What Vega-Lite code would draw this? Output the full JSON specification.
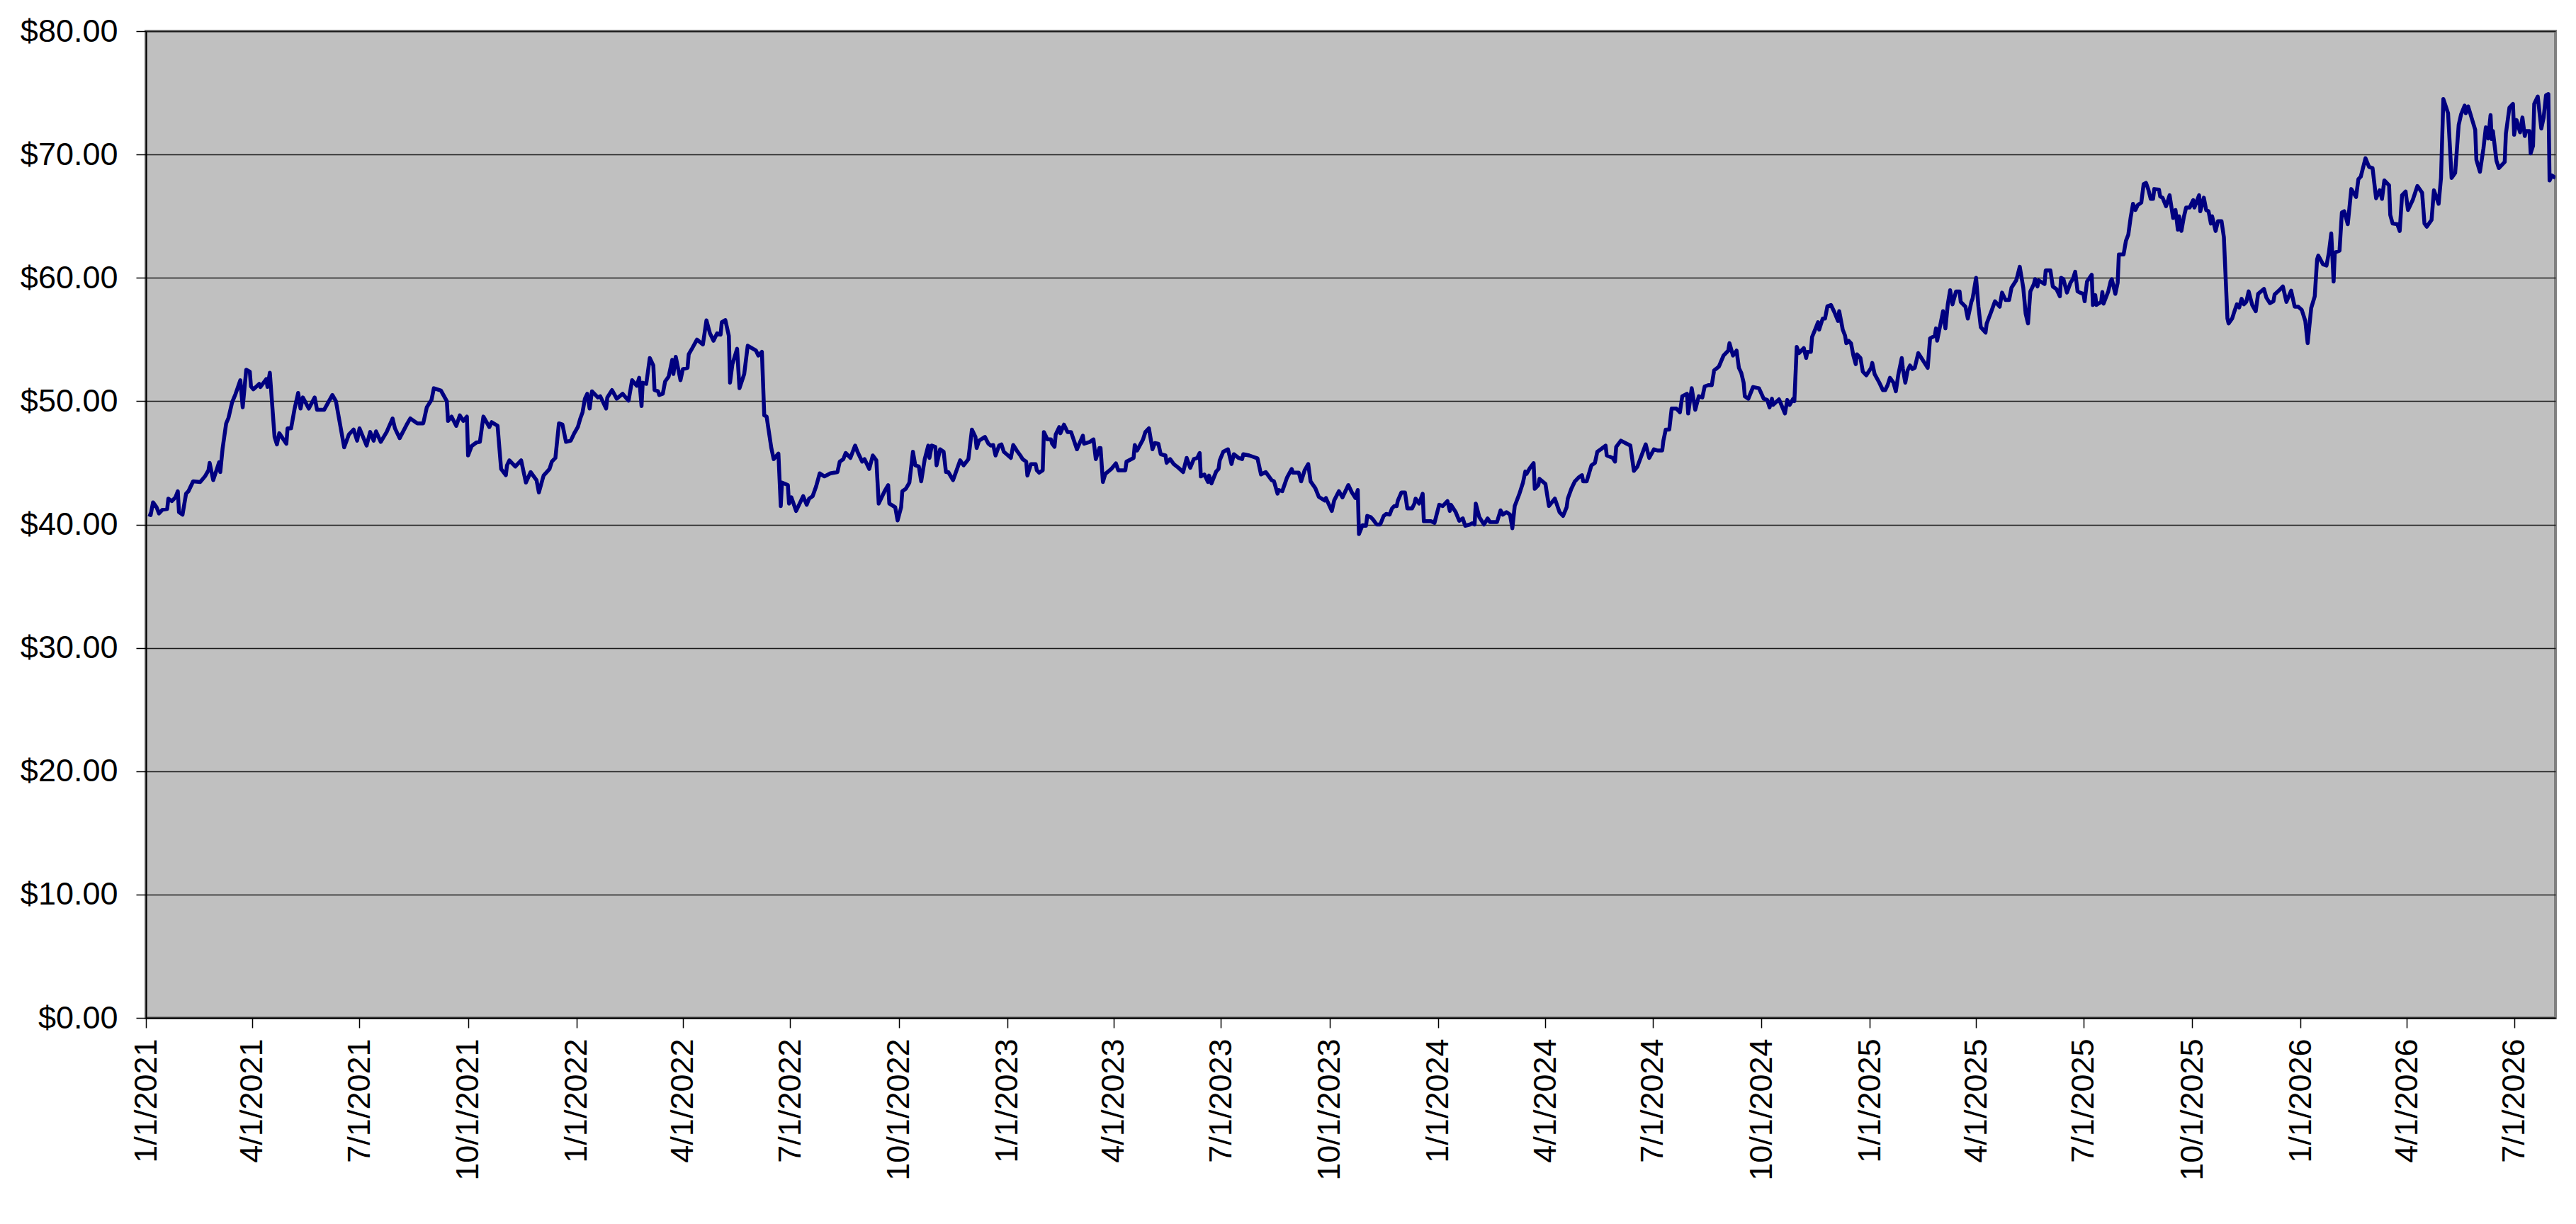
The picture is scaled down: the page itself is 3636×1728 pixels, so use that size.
{
  "$schema": "https://vega.github.io/schema/vega-lite/v6.json",
  "autosize": "none",
  "width": 3401,
  "height": 1393,
  "padding": {"left": 206, "top": 44, "right": 29, "bottom": 291},
  "background": "#FFFFFF",
  "config": {
    "view": {"fill": "#C0C0C0", "stroke": "#808080", "strokeWidth": 4},
    "axis": {"labelFont": "Liberation Sans", "labelFontSize": 45, "labelColor": "#000000", "labelLimit": 0, "domainColor": "#000000", "domainWidth": 2, "tickColor": "#000000", "tickWidth": 1.5, "tickSize": 14, "title": null}
  },
  "data": {"values": [
{"d":"2021-01-03","v":40.84},{"d":"2021-01-05","v":40.77},{"d":"2021-01-07","v":41.8},{"d":"2021-01-10","v":41.4},{"d":"2021-01-12","v":40.9},{"d":"2021-01-15","v":41.2},{"d":"2021-01-19","v":41.26},{"d":"2021-01-20","v":42.1},{"d":"2021-01-23","v":41.9},{"d":"2021-01-26","v":42.2},{"d":"2021-01-28","v":42.7},{"d":"2021-01-29","v":41.0},{"d":"2021-02-01","v":40.8},{"d":"2021-02-04","v":42.5},{"d":"2021-02-06","v":42.7},{"d":"2021-02-10","v":43.5},{"d":"2021-02-16","v":43.45},{"d":"2021-02-20","v":43.9},{"d":"2021-02-23","v":44.4},{"d":"2021-02-24","v":45.0},{"d":"2021-02-27","v":43.6},{"d":"2021-03-04","v":45.05},{"d":"2021-03-05","v":44.25},{"d":"2021-03-07","v":46.2},{"d":"2021-03-10","v":48.2},{"d":"2021-03-12","v":48.66},{"d":"2021-03-15","v":49.9},{"d":"2021-03-18","v":50.6},{"d":"2021-03-22","v":51.7},{"d":"2021-03-24","v":49.5},{"d":"2021-03-27","v":52.55},{"d":"2021-03-30","v":52.4},{"d":"2021-03-31","v":51.2},{"d":"2021-04-02","v":50.96},{"d":"2021-04-07","v":51.4},{"d":"2021-04-08","v":51.15},{"d":"2021-04-13","v":51.8},{"d":"2021-04-14","v":51.15},{"d":"2021-04-16","v":52.3},{"d":"2021-04-20","v":47.1},{"d":"2021-04-22","v":46.5},{"d":"2021-04-24","v":47.4},{"d":"2021-04-30","v":46.55},{"d":"2021-05-01","v":47.8},{"d":"2021-05-04","v":47.8},{"d":"2021-05-07","v":49.4},{"d":"2021-05-10","v":50.67},{"d":"2021-05-12","v":49.4},{"d":"2021-05-14","v":50.3},{"d":"2021-05-19","v":49.4},{"d":"2021-05-24","v":50.3},{"d":"2021-05-26","v":49.3},{"d":"2021-06-01","v":49.3},{"d":"2021-06-08","v":50.5},{"d":"2021-06-11","v":50.0},{"d":"2021-06-18","v":46.26},{"d":"2021-06-22","v":47.3},{"d":"2021-06-26","v":47.7},{"d":"2021-06-29","v":46.8},{"d":"2021-07-01","v":47.8},{"d":"2021-07-07","v":46.4},{"d":"2021-07-10","v":47.5},{"d":"2021-07-13","v":46.8},{"d":"2021-07-15","v":47.55},{"d":"2021-07-19","v":46.7},{"d":"2021-07-24","v":47.5},{"d":"2021-07-29","v":48.6},{"d":"2021-07-31","v":47.8},{"d":"2021-08-04","v":47.0},{"d":"2021-08-10","v":48.1},{"d":"2021-08-13","v":48.6},{"d":"2021-08-19","v":48.2},{"d":"2021-08-24","v":48.2},{"d":"2021-08-27","v":49.5},{"d":"2021-08-31","v":50.1},{"d":"2021-09-02","v":51.05},{"d":"2021-09-08","v":50.86},{"d":"2021-09-13","v":50.0},{"d":"2021-09-14","v":48.4},{"d":"2021-09-17","v":48.75},{"d":"2021-09-21","v":48.0},{"d":"2021-09-24","v":48.85},{"d":"2021-09-27","v":48.4},{"d":"2021-09-30","v":48.75},{"d":"2021-10-01","v":45.6},{"d":"2021-10-04","v":46.36},{"d":"2021-10-08","v":46.65},{"d":"2021-10-11","v":46.7},{"d":"2021-10-14","v":48.75},{"d":"2021-10-19","v":47.9},{"d":"2021-10-21","v":48.3},{"d":"2021-10-26","v":48.0},{"d":"2021-10-29","v":44.5},{"d":"2021-11-02","v":44.0},{"d":"2021-11-03","v":44.8},{"d":"2021-11-05","v":45.2},{"d":"2021-11-10","v":44.7},{"d":"2021-11-15","v":45.2},{"d":"2021-11-19","v":43.4},{"d":"2021-11-23","v":44.25},{"d":"2021-11-28","v":43.6},{"d":"2021-11-30","v":42.6},{"d":"2021-12-04","v":43.97},{"d":"2021-12-09","v":44.5},{"d":"2021-12-11","v":45.1},{"d":"2021-12-14","v":45.4},{"d":"2021-12-17","v":48.2},{"d":"2021-12-20","v":48.1},{"d":"2021-12-23","v":46.7},{"d":"2021-12-27","v":46.8},{"d":"2021-12-30","v":47.4},
{"d":"2022-01-02","v":47.9},{"d":"2022-01-04","v":48.56},{"d":"2022-01-06","v":49.1},{"d":"2022-01-08","v":50.2},{"d":"2022-01-10","v":50.6},{"d":"2022-01-12","v":49.4},{"d":"2022-01-14","v":50.8},{"d":"2022-01-19","v":50.3},{"d":"2022-01-21","v":50.4},{"d":"2022-01-26","v":49.4},{"d":"2022-01-27","v":50.3},{"d":"2022-01-31","v":50.9},{"d":"2022-02-04","v":50.2},{"d":"2022-02-09","v":50.6},{"d":"2022-02-14","v":50.04},{"d":"2022-02-17","v":51.7},{"d":"2022-02-21","v":51.25},{"d":"2022-02-23","v":51.9},{"d":"2022-02-25","v":49.6},{"d":"2022-02-26","v":51.5},{"d":"2022-03-01","v":51.4},{"d":"2022-03-04","v":53.5},{"d":"2022-03-07","v":52.9},{"d":"2022-03-08","v":50.9},{"d":"2022-03-11","v":50.8},{"d":"2022-03-12","v":50.5},{"d":"2022-03-15","v":50.6},{"d":"2022-03-17","v":51.6},{"d":"2022-03-20","v":52.0},{"d":"2022-03-23","v":53.35},{"d":"2022-03-24","v":52.2},{"d":"2022-03-26","v":53.6},{"d":"2022-03-30","v":51.7},{"d":"2022-04-01","v":52.6},{"d":"2022-04-05","v":52.7},{"d":"2022-04-06","v":53.8},{"d":"2022-04-09","v":54.3},{"d":"2022-04-13","v":55.0},{"d":"2022-04-18","v":54.6},{"d":"2022-04-21","v":56.55},{"d":"2022-04-24","v":55.5},{"d":"2022-04-27","v":54.9},{"d":"2022-04-30","v":55.5},{"d":"2022-05-03","v":55.4},{"d":"2022-05-04","v":56.4},{"d":"2022-05-07","v":56.57},{"d":"2022-05-10","v":55.3},{"d":"2022-05-11","v":51.5},{"d":"2022-05-13","v":53.0},{"d":"2022-05-17","v":54.25},{"d":"2022-05-19","v":51.05},{"d":"2022-05-23","v":52.2},{"d":"2022-05-26","v":54.5},{"d":"2022-06-02","v":54.1},{"d":"2022-06-04","v":53.7},{"d":"2022-06-07","v":54.0},{"d":"2022-06-09","v":48.85},{"d":"2022-06-11","v":48.75},{"d":"2022-06-15","v":46.2},{"d":"2022-06-17","v":45.3},{"d":"2022-06-21","v":45.75},{"d":"2022-06-23","v":41.5},{"d":"2022-06-24","v":43.4},{"d":"2022-06-29","v":43.2},{"d":"2022-06-30","v":41.7},{"d":"2022-07-02","v":42.2},{"d":"2022-07-06","v":41.1},{"d":"2022-07-09","v":41.7},{"d":"2022-07-12","v":42.3},{"d":"2022-07-15","v":41.6},{"d":"2022-07-17","v":42.1},{"d":"2022-07-20","v":42.3},{"d":"2022-07-23","v":43.1},{"d":"2022-07-26","v":44.15},{"d":"2022-07-30","v":43.9},{"d":"2022-08-04","v":44.15},{"d":"2022-08-10","v":44.25},{"d":"2022-08-12","v":45.1},{"d":"2022-08-15","v":45.3},{"d":"2022-08-17","v":45.8},{"d":"2022-08-21","v":45.4},{"d":"2022-08-25","v":46.4},{"d":"2022-08-27","v":45.9},{"d":"2022-08-31","v":45.1},{"d":"2022-09-02","v":45.3},{"d":"2022-09-06","v":44.5},{"d":"2022-09-09","v":45.6},{"d":"2022-09-12","v":45.2},{"d":"2022-09-14","v":41.7},{"d":"2022-09-19","v":42.7},{"d":"2022-09-22","v":43.2},{"d":"2022-09-23","v":41.7},{"d":"2022-09-28","v":41.4},{"d":"2022-09-30","v":40.33},{"d":"2022-10-03","v":41.4},{"d":"2022-10-04","v":42.7},{"d":"2022-10-07","v":42.9},{"d":"2022-10-10","v":43.4},{"d":"2022-10-13","v":45.9},{"d":"2022-10-15","v":44.8},{"d":"2022-10-18","v":44.7},{"d":"2022-10-20","v":43.5},{"d":"2022-10-23","v":45.3},{"d":"2022-10-26","v":46.4},{"d":"2022-10-27","v":45.4},{"d":"2022-10-29","v":46.4},{"d":"2022-11-01","v":46.3},{"d":"2022-11-02","v":44.8},{"d":"2022-11-05","v":46.1},{"d":"2022-11-08","v":45.9},{"d":"2022-11-10","v":44.25},{"d":"2022-11-12","v":44.25},{"d":"2022-11-16","v":43.6},{"d":"2022-11-19","v":44.4},{"d":"2022-11-22","v":45.2},{"d":"2022-11-25","v":44.8},{"d":"2022-11-29","v":45.3},{"d":"2022-12-02","v":47.7},{"d":"2022-12-05","v":47.1},{"d":"2022-12-06","v":46.2},{"d":"2022-12-08","v":46.8},{"d":"2022-12-13","v":47.1},{"d":"2022-12-16","v":46.55},{"d":"2022-12-18","v":46.4},{"d":"2022-12-20","v":46.45},{"d":"2022-12-22","v":45.6},{"d":"2022-12-25","v":46.4},{"d":"2022-12-27","v":46.5},{"d":"2022-12-29","v":45.9},
{"d":"2023-01-04","v":45.4},{"d":"2023-01-06","v":46.45},{"d":"2023-01-09","v":46.0},{"d":"2023-01-12","v":45.6},{"d":"2023-01-14","v":45.3},{"d":"2023-01-17","v":45.1},{"d":"2023-01-18","v":43.97},{"d":"2023-01-21","v":44.9},{"d":"2023-01-25","v":44.9},{"d":"2023-01-26","v":44.4},{"d":"2023-01-28","v":44.2},{"d":"2023-01-31","v":44.4},{"d":"2023-02-01","v":47.5},{"d":"2023-02-04","v":46.9},{"d":"2023-02-07","v":46.9},{"d":"2023-02-08","v":46.55},{"d":"2023-02-10","v":46.3},{"d":"2023-02-11","v":47.3},{"d":"2023-02-14","v":47.9},{"d":"2023-02-15","v":47.4},{"d":"2023-02-18","v":48.1},{"d":"2023-02-21","v":47.5},{"d":"2023-02-24","v":47.5},{"d":"2023-03-01","v":46.1},{"d":"2023-03-06","v":47.2},{"d":"2023-03-07","v":46.55},{"d":"2023-03-12","v":46.7},{"d":"2023-03-15","v":46.9},{"d":"2023-03-17","v":45.3},{"d":"2023-03-20","v":46.2},{"d":"2023-03-21","v":46.2},{"d":"2023-03-23","v":43.45},{"d":"2023-03-25","v":44.1},{"d":"2023-03-30","v":44.5},{"d":"2023-04-03","v":44.96},{"d":"2023-04-05","v":44.4},{"d":"2023-04-11","v":44.4},{"d":"2023-04-12","v":45.1},{"d":"2023-04-18","v":45.4},{"d":"2023-04-19","v":46.45},{"d":"2023-04-21","v":46.0},{"d":"2023-04-26","v":46.9},{"d":"2023-04-28","v":47.5},{"d":"2023-05-01","v":47.8},{"d":"2023-05-04","v":46.1},{"d":"2023-05-06","v":46.6},{"d":"2023-05-09","v":46.55},{"d":"2023-05-11","v":45.7},{"d":"2023-05-15","v":45.6},{"d":"2023-05-16","v":45.0},{"d":"2023-05-19","v":45.3},{"d":"2023-05-22","v":44.9},{"d":"2023-05-26","v":44.6},{"d":"2023-05-30","v":44.25},{"d":"2023-06-02","v":45.4},{"d":"2023-06-05","v":44.6},{"d":"2023-06-08","v":45.3},{"d":"2023-06-11","v":45.4},{"d":"2023-06-13","v":45.8},{"d":"2023-06-14","v":43.9},{"d":"2023-06-17","v":44.06},{"d":"2023-06-20","v":43.45},{"d":"2023-06-21","v":43.97},{"d":"2023-06-23","v":43.33},{"d":"2023-06-27","v":44.3},{"d":"2023-06-29","v":44.5},{"d":"2023-06-30","v":45.2},{"d":"2023-07-03","v":45.9},{"d":"2023-07-07","v":46.1},{"d":"2023-07-10","v":44.9},{"d":"2023-07-12","v":45.7},{"d":"2023-07-16","v":45.4},{"d":"2023-07-19","v":45.3},{"d":"2023-07-20","v":45.7},{"d":"2023-07-25","v":45.6},{"d":"2023-07-28","v":45.5},{"d":"2023-08-01","v":45.36},{"d":"2023-08-04","v":44.06},{"d":"2023-08-08","v":44.25},{"d":"2023-08-13","v":43.6},{"d":"2023-08-15","v":43.5},{"d":"2023-08-18","v":42.5},{"d":"2023-08-19","v":42.8},{"d":"2023-08-22","v":42.7},{"d":"2023-08-26","v":43.8},{"d":"2023-08-30","v":44.5},{"d":"2023-08-31","v":44.2},{"d":"2023-09-05","v":44.2},{"d":"2023-09-07","v":43.5},{"d":"2023-09-10","v":44.4},{"d":"2023-09-13","v":44.9},{"d":"2023-09-15","v":43.5},{"d":"2023-09-19","v":42.95},{"d":"2023-09-22","v":42.24},{"d":"2023-09-27","v":41.95},{"d":"2023-09-28","v":42.15},{"d":"2023-10-03","v":41.1},{"d":"2023-10-05","v":41.95},{"d":"2023-10-09","v":42.7},{"d":"2023-10-12","v":42.2},{"d":"2023-10-15","v":42.8},{"d":"2023-10-17","v":43.2},{"d":"2023-10-20","v":42.6},{"d":"2023-10-23","v":42.15},{"d":"2023-10-25","v":42.8},{"d":"2023-10-26","v":39.23},{"d":"2023-10-29","v":39.94},{"d":"2023-11-01","v":39.9},{"d":"2023-11-02","v":40.7},{"d":"2023-11-05","v":40.6},{"d":"2023-11-07","v":40.4},{"d":"2023-11-10","v":40.0},{"d":"2023-11-13","v":40.0},{"d":"2023-11-16","v":40.7},{"d":"2023-11-18","v":40.86},{"d":"2023-11-21","v":40.8},{"d":"2023-11-23","v":41.3},{"d":"2023-11-25","v":41.5},{"d":"2023-11-27","v":41.5},{"d":"2023-11-28","v":41.95},{"d":"2023-12-01","v":42.6},{"d":"2023-12-04","v":42.6},{"d":"2023-12-06","v":41.3},{"d":"2023-12-10","v":41.3},{"d":"2023-12-12","v":41.7},{"d":"2023-12-13","v":42.1},{"d":"2023-12-16","v":41.7},{"d":"2023-12-19","v":42.5},{"d":"2023-12-20","v":40.27},{"d":"2023-12-26","v":40.27},{"d":"2023-12-29","v":40.13},
{"d":"2024-01-02","v":41.6},{"d":"2024-01-05","v":41.5},{"d":"2024-01-09","v":41.9},{"d":"2024-01-11","v":41.1},{"d":"2024-01-12","v":41.6},{"d":"2024-01-16","v":41.0},{"d":"2024-01-19","v":40.3},{"d":"2024-01-22","v":40.5},{"d":"2024-01-24","v":39.9},{"d":"2024-01-28","v":40.0},{"d":"2024-01-30","v":40.1},{"d":"2024-02-01","v":40.0},{"d":"2024-02-02","v":41.7},{"d":"2024-02-05","v":40.6},{"d":"2024-02-09","v":40.0},{"d":"2024-02-12","v":40.5},{"d":"2024-02-14","v":40.2},{"d":"2024-02-20","v":40.2},{"d":"2024-02-23","v":41.15},{"d":"2024-02-25","v":40.8},{"d":"2024-02-28","v":41.0},{"d":"2024-03-02","v":40.8},{"d":"2024-03-04","v":39.7},{"d":"2024-03-06","v":41.5},{"d":"2024-03-10","v":42.5},{"d":"2024-03-13","v":43.4},{"d":"2024-03-15","v":44.3},{"d":"2024-03-16","v":44.1},{"d":"2024-03-19","v":44.6},{"d":"2024-03-22","v":44.98},{"d":"2024-03-23","v":42.9},{"d":"2024-03-26","v":43.2},{"d":"2024-03-27","v":43.7},{"d":"2024-04-01","v":43.3},{"d":"2024-04-04","v":41.5},{"d":"2024-04-09","v":42.1},{"d":"2024-04-13","v":41.0},{"d":"2024-04-16","v":40.7},{"d":"2024-04-19","v":41.4},{"d":"2024-04-20","v":42.1},{"d":"2024-04-23","v":42.9},{"d":"2024-04-26","v":43.5},{"d":"2024-04-29","v":43.8},{"d":"2024-05-02","v":44.0},{"d":"2024-05-03","v":43.5},{"d":"2024-05-06","v":43.5},{"d":"2024-05-10","v":44.8},{"d":"2024-05-13","v":45.0},{"d":"2024-05-15","v":45.9},{"d":"2024-05-18","v":46.1},{"d":"2024-05-22","v":46.4},{"d":"2024-05-23","v":45.6},{"d":"2024-05-28","v":45.4},{"d":"2024-05-30","v":45.1},{"d":"2024-05-31","v":46.3},{"d":"2024-06-04","v":46.8},{"d":"2024-06-09","v":46.55},{"d":"2024-06-12","v":46.4},{"d":"2024-06-15","v":44.35},{"d":"2024-06-18","v":44.7},{"d":"2024-06-25","v":46.5},{"d":"2024-06-28","v":45.4},{"d":"2024-07-02","v":46.1},{"d":"2024-07-05","v":46.0},{"d":"2024-07-09","v":46.0},{"d":"2024-07-10","v":46.8},{"d":"2024-07-12","v":47.7},{"d":"2024-07-15","v":47.7},{"d":"2024-07-17","v":49.4},{"d":"2024-07-21","v":49.4},{"d":"2024-07-24","v":49.1},{"d":"2024-07-26","v":50.4},{"d":"2024-07-30","v":50.6},{"d":"2024-07-31","v":49.0},{"d":"2024-08-03","v":51.05},{"d":"2024-08-06","v":49.3},{"d":"2024-08-09","v":50.4},{"d":"2024-08-12","v":50.3},{"d":"2024-08-14","v":51.2},{"d":"2024-08-17","v":51.3},{"d":"2024-08-20","v":51.3},{"d":"2024-08-22","v":52.5},{"d":"2024-08-26","v":52.8},{"d":"2024-08-30","v":53.7},{"d":"2024-09-03","v":54.1},{"d":"2024-09-04","v":54.7},{"d":"2024-09-07","v":53.7},{"d":"2024-09-10","v":54.1},{"d":"2024-09-12","v":52.7},{"d":"2024-09-14","v":52.3},{"d":"2024-09-16","v":51.5},{"d":"2024-09-17","v":50.4},{"d":"2024-09-20","v":50.2},{"d":"2024-09-24","v":51.15},{"d":"2024-09-29","v":51.05},{"d":"2024-10-03","v":50.2},{"d":"2024-10-06","v":50.1},{"d":"2024-10-08","v":49.5},{"d":"2024-10-10","v":50.2},{"d":"2024-10-11","v":49.7},{"d":"2024-10-16","v":50.15},{"d":"2024-10-18","v":49.7},{"d":"2024-10-21","v":49.0},{"d":"2024-10-23","v":50.1},{"d":"2024-10-25","v":49.7},{"d":"2024-10-28","v":50.2},{"d":"2024-10-29","v":50.0},{"d":"2024-10-31","v":54.4},{"d":"2024-11-02","v":53.9},{"d":"2024-11-06","v":54.3},{"d":"2024-11-08","v":53.5},{"d":"2024-11-09","v":54.0},{"d":"2024-11-12","v":54.0},{"d":"2024-11-13","v":55.2},{"d":"2024-11-16","v":55.9},{"d":"2024-11-18","v":56.4},{"d":"2024-11-19","v":55.8},{"d":"2024-11-22","v":56.7},{"d":"2024-11-24","v":56.7},{"d":"2024-11-26","v":57.7},{"d":"2024-11-29","v":57.8},{"d":"2024-12-02","v":57.2},{"d":"2024-12-05","v":56.5},{"d":"2024-12-06","v":57.3},{"d":"2024-12-09","v":55.8},{"d":"2024-12-11","v":55.3},{"d":"2024-12-12","v":54.7},{"d":"2024-12-14","v":54.9},{"d":"2024-12-16","v":54.7},{"d":"2024-12-18","v":53.7},{"d":"2024-12-20","v":53.0},{"d":"2024-12-21","v":53.8},{"d":"2024-12-24","v":53.5},{"d":"2024-12-26","v":52.4},{"d":"2024-12-29","v":52.1},
{"d":"2025-01-02","v":52.7},{"d":"2025-01-03","v":53.1},{"d":"2025-01-05","v":52.2},{"d":"2025-01-09","v":51.5},{"d":"2025-01-12","v":50.9},{"d":"2025-01-14","v":50.9},{"d":"2025-01-16","v":51.3},{"d":"2025-01-18","v":51.9},{"d":"2025-01-21","v":51.5},{"d":"2025-01-23","v":50.8},{"d":"2025-01-25","v":52.1},{"d":"2025-01-28","v":53.5},{"d":"2025-01-29","v":52.6},{"d":"2025-01-31","v":51.5},{"d":"2025-02-02","v":52.5},{"d":"2025-02-04","v":52.9},{"d":"2025-02-06","v":52.6},{"d":"2025-02-08","v":52.7},{"d":"2025-02-11","v":53.9},{"d":"2025-02-14","v":53.45},{"d":"2025-02-19","v":52.7},{"d":"2025-02-21","v":55.1},{"d":"2025-02-25","v":55.3},{"d":"2025-02-26","v":55.9},{"d":"2025-02-27","v":54.9},{"d":"2025-03-04","v":57.3},{"d":"2025-03-06","v":55.9},{"d":"2025-03-08","v":57.85},{"d":"2025-03-10","v":59.0},{"d":"2025-03-12","v":57.85},{"d":"2025-03-15","v":58.9},{"d":"2025-03-18","v":58.9},{"d":"2025-03-19","v":58.05},{"d":"2025-03-23","v":57.66},{"d":"2025-03-25","v":56.7},{"d":"2025-03-28","v":58.05},{"d":"2025-03-29","v":58.3},{"d":"2025-04-01","v":60.0},{"d":"2025-04-03","v":57.66},{"d":"2025-04-05","v":56.0},{"d":"2025-04-09","v":55.56},{"d":"2025-04-10","v":56.3},{"d":"2025-04-14","v":57.3},{"d":"2025-04-17","v":58.1},{"d":"2025-04-21","v":57.66},{"d":"2025-04-23","v":58.8},{"d":"2025-04-26","v":58.2},{"d":"2025-04-29","v":58.2},{"d":"2025-05-01","v":59.2},{"d":"2025-05-05","v":59.8},{"d":"2025-05-06","v":60.15},{"d":"2025-05-08","v":60.9},{"d":"2025-05-11","v":59.2},{"d":"2025-05-13","v":57.1},{"d":"2025-05-15","v":56.3},{"d":"2025-05-17","v":58.9},{"d":"2025-05-20","v":59.5},{"d":"2025-05-21","v":59.9},{"d":"2025-05-23","v":59.3},{"d":"2025-05-24","v":59.8},{"d":"2025-05-29","v":59.5},{"d":"2025-05-30","v":60.6},{"d":"2025-06-03","v":60.6},{"d":"2025-06-05","v":59.3},{"d":"2025-06-08","v":59.1},{"d":"2025-06-11","v":58.5},{"d":"2025-06-12","v":60.0},{"d":"2025-06-14","v":59.9},{"d":"2025-06-17","v":58.8},{"d":"2025-06-20","v":59.6},{"d":"2025-06-22","v":59.9},{"d":"2025-06-24","v":60.5},{"d":"2025-06-26","v":58.9},{"d":"2025-06-28","v":58.8},{"d":"2025-07-01","v":58.7},{"d":"2025-07-02","v":58.1},{"d":"2025-07-04","v":59.7},{"d":"2025-07-08","v":60.25},{"d":"2025-07-09","v":57.8},{"d":"2025-07-11","v":58.6},{"d":"2025-07-12","v":57.8},{"d":"2025-07-16","v":58.05},{"d":"2025-07-17","v":58.85},{"d":"2025-07-18","v":57.9},{"d":"2025-07-22","v":58.9},{"d":"2025-07-24","v":59.7},{"d":"2025-07-25","v":59.9},{"d":"2025-07-28","v":58.7},{"d":"2025-07-30","v":59.6},{"d":"2025-07-31","v":61.9},{"d":"2025-08-04","v":61.9},{"d":"2025-08-06","v":63.0},{"d":"2025-08-08","v":63.5},{"d":"2025-08-10","v":64.9},{"d":"2025-08-12","v":66.0},{"d":"2025-08-14","v":65.5},{"d":"2025-08-16","v":65.9},{"d":"2025-08-19","v":66.1},{"d":"2025-08-21","v":67.6},{"d":"2025-08-23","v":67.7},{"d":"2025-08-25","v":67.15},{"d":"2025-08-27","v":66.4},{"d":"2025-08-29","v":66.4},{"d":"2025-08-30","v":67.2},{"d":"2025-09-03","v":67.15},{"d":"2025-09-04","v":66.6},{"d":"2025-09-06","v":66.5},{"d":"2025-09-09","v":65.8},{"d":"2025-09-12","v":66.7},{"d":"2025-09-15","v":64.85},{"d":"2025-09-17","v":65.5},{"d":"2025-09-19","v":63.9},{"d":"2025-09-20","v":65.0},{"d":"2025-09-22","v":63.8},{"d":"2025-09-24","v":64.9},{"d":"2025-09-26","v":65.7},{"d":"2025-09-29","v":65.7},{"d":"2025-10-02","v":66.3},{"d":"2025-10-03","v":65.7},{"d":"2025-10-07","v":66.7},{"d":"2025-10-08","v":65.4},{"d":"2025-10-11","v":66.5},{"d":"2025-10-13","v":65.5},{"d":"2025-10-15","v":65.4},{"d":"2025-10-17","v":64.4},{"d":"2025-10-18","v":65.0},{"d":"2025-10-21","v":63.8},{"d":"2025-10-23","v":64.6},{"d":"2025-10-26","v":64.6},{"d":"2025-10-28","v":63.3},{"d":"2025-10-29","v":61.1},{"d":"2025-10-31","v":56.7},{"d":"2025-11-01","v":56.3},{"d":"2025-11-04","v":56.7},{"d":"2025-11-06","v":57.3},{"d":"2025-11-08","v":57.85},{"d":"2025-11-10","v":57.6},{"d":"2025-11-12","v":58.3},{"d":"2025-11-14","v":57.85},{"d":"2025-11-16","v":58.05},{"d":"2025-11-18","v":58.9},{"d":"2025-11-21","v":57.8},{"d":"2025-11-24","v":57.3},{"d":"2025-11-26","v":58.7},{"d":"2025-12-01","v":59.1},{"d":"2025-12-03","v":58.4},{"d":"2025-12-06","v":57.95},{"d":"2025-12-09","v":58.1},{"d":"2025-12-10","v":58.65},{"d":"2025-12-15","v":59.1},{"d":"2025-12-17","v":59.3},{"d":"2025-12-20","v":58.05},{"d":"2025-12-24","v":58.96},{"d":"2025-12-27","v":57.66},{"d":"2025-12-30","v":57.66},
{"d":"2026-01-02","v":57.4},{"d":"2026-01-05","v":56.5},{"d":"2026-01-07","v":54.7},{"d":"2026-01-10","v":57.55},{"d":"2026-01-13","v":58.5},{"d":"2026-01-15","v":61.5},{"d":"2026-01-16","v":61.8},{"d":"2026-01-20","v":61.1},{"d":"2026-01-23","v":61.0},{"d":"2026-01-25","v":62.05},{"d":"2026-01-27","v":63.6},{"d":"2026-01-29","v":59.7},{"d":"2026-01-30","v":62.05},{"d":"2026-02-03","v":62.2},{"d":"2026-02-05","v":65.3},{"d":"2026-02-07","v":65.4},{"d":"2026-02-10","v":64.35},{"d":"2026-02-13","v":67.2},{"d":"2026-02-17","v":66.55},{"d":"2026-02-19","v":68.0},{"d":"2026-02-21","v":68.2},{"d":"2026-02-25","v":69.7},{"d":"2026-02-28","v":69.0},{"d":"2026-03-03","v":68.9},{"d":"2026-03-06","v":66.45},{"d":"2026-03-09","v":67.1},{"d":"2026-03-11","v":66.4},{"d":"2026-03-13","v":67.9},{"d":"2026-03-17","v":67.5},{"d":"2026-03-18","v":65.1},{"d":"2026-03-20","v":64.4},{"d":"2026-03-24","v":64.35},{"d":"2026-03-26","v":63.8},{"d":"2026-03-28","v":66.7},{"d":"2026-03-31","v":67.0},{"d":"2026-04-02","v":65.5},{"d":"2026-04-06","v":66.3},{"d":"2026-04-10","v":67.45},{"d":"2026-04-14","v":66.9},{"d":"2026-04-16","v":64.4},{"d":"2026-04-18","v":64.15},{"d":"2026-04-22","v":64.7},{"d":"2026-04-24","v":67.1},{"d":"2026-04-28","v":66.0},{"d":"2026-04-30","v":68.1},{"d":"2026-05-02","v":74.5},{"d":"2026-05-06","v":73.35},{"d":"2026-05-09","v":68.1},{"d":"2026-05-12","v":68.5},{"d":"2026-05-15","v":72.4},{"d":"2026-05-17","v":73.25},{"d":"2026-05-20","v":73.96},{"d":"2026-05-21","v":73.35},{"d":"2026-05-23","v":73.9},{"d":"2026-05-29","v":72.0},{"d":"2026-05-30","v":69.56},{"d":"2026-06-02","v":68.6},{"d":"2026-06-05","v":70.5},{"d":"2026-06-07","v":72.2},{"d":"2026-06-09","v":71.3},{"d":"2026-06-11","v":73.2},{"d":"2026-06-12","v":71.25},{"d":"2026-06-13","v":71.9},{"d":"2026-06-16","v":69.5},{"d":"2026-06-18","v":68.9},{"d":"2026-06-23","v":69.4},{"d":"2026-06-24","v":71.7},{"d":"2026-06-27","v":73.8},{"d":"2026-06-30","v":74.1},{"d":"2026-07-01","v":71.6},{"d":"2026-07-03","v":72.8},{"d":"2026-07-06","v":71.8},{"d":"2026-07-08","v":73.0},{"d":"2026-07-10","v":71.5},{"d":"2026-07-11","v":71.9},{"d":"2026-07-14","v":71.9},{"d":"2026-07-15","v":70.1},{"d":"2026-07-17","v":70.7},{"d":"2026-07-18","v":74.1},{"d":"2026-07-21","v":74.7},{"d":"2026-07-24","v":72.1},{"d":"2026-07-26","v":73.0},{"d":"2026-07-28","v":74.8},{"d":"2026-07-30","v":74.9},{"d":"2026-07-31","v":67.9},{"d":"2026-08-02","v":68.3},{"d":"2026-08-05","v":68.1}
  ]},
  "mark": {"type": "line", "color": "#000080", "strokeWidth": 5.5, "strokeJoin": "round", "clip": true},
  "encoding": {
    "x": {
      "field": "d", "type": "temporal",
      "scale": {"type": "utc", "domain": ["2021-01-01", "2026-08-05"], "nice": false},
      "axis": {
        "format": "%-m/%-d/%Y", "labelAngle": -90, "labelPadding": 15, "grid": false,
        "labelOverlap": false, "labelBound": false, "labelFlush": false,
        "values": ["2021-01-01","2021-04-01","2021-07-01","2021-10-01","2022-01-01","2022-04-01","2022-07-01","2022-10-01","2023-01-01","2023-04-01","2023-07-01","2023-10-01","2024-01-01","2024-04-01","2024-07-01","2024-10-01","2025-01-01","2025-04-01","2025-07-01","2025-10-01","2026-01-01","2026-04-01","2026-07-01"]
      }
    },
    "y": {
      "field": "v", "type": "quantitative",
      "scale": {"domain": [0, 80], "nice": false, "zero": true},
      "axis": {
        "format": "$.2f", "values": [0,10,20,30,40,50,60,70,80], "labelPadding": 26,
        "grid": true, "gridColor": "#1A1A1A", "gridWidth": 1.5, "labelOverlap": false, "labelFlush": false
      }
    }
  }
}
